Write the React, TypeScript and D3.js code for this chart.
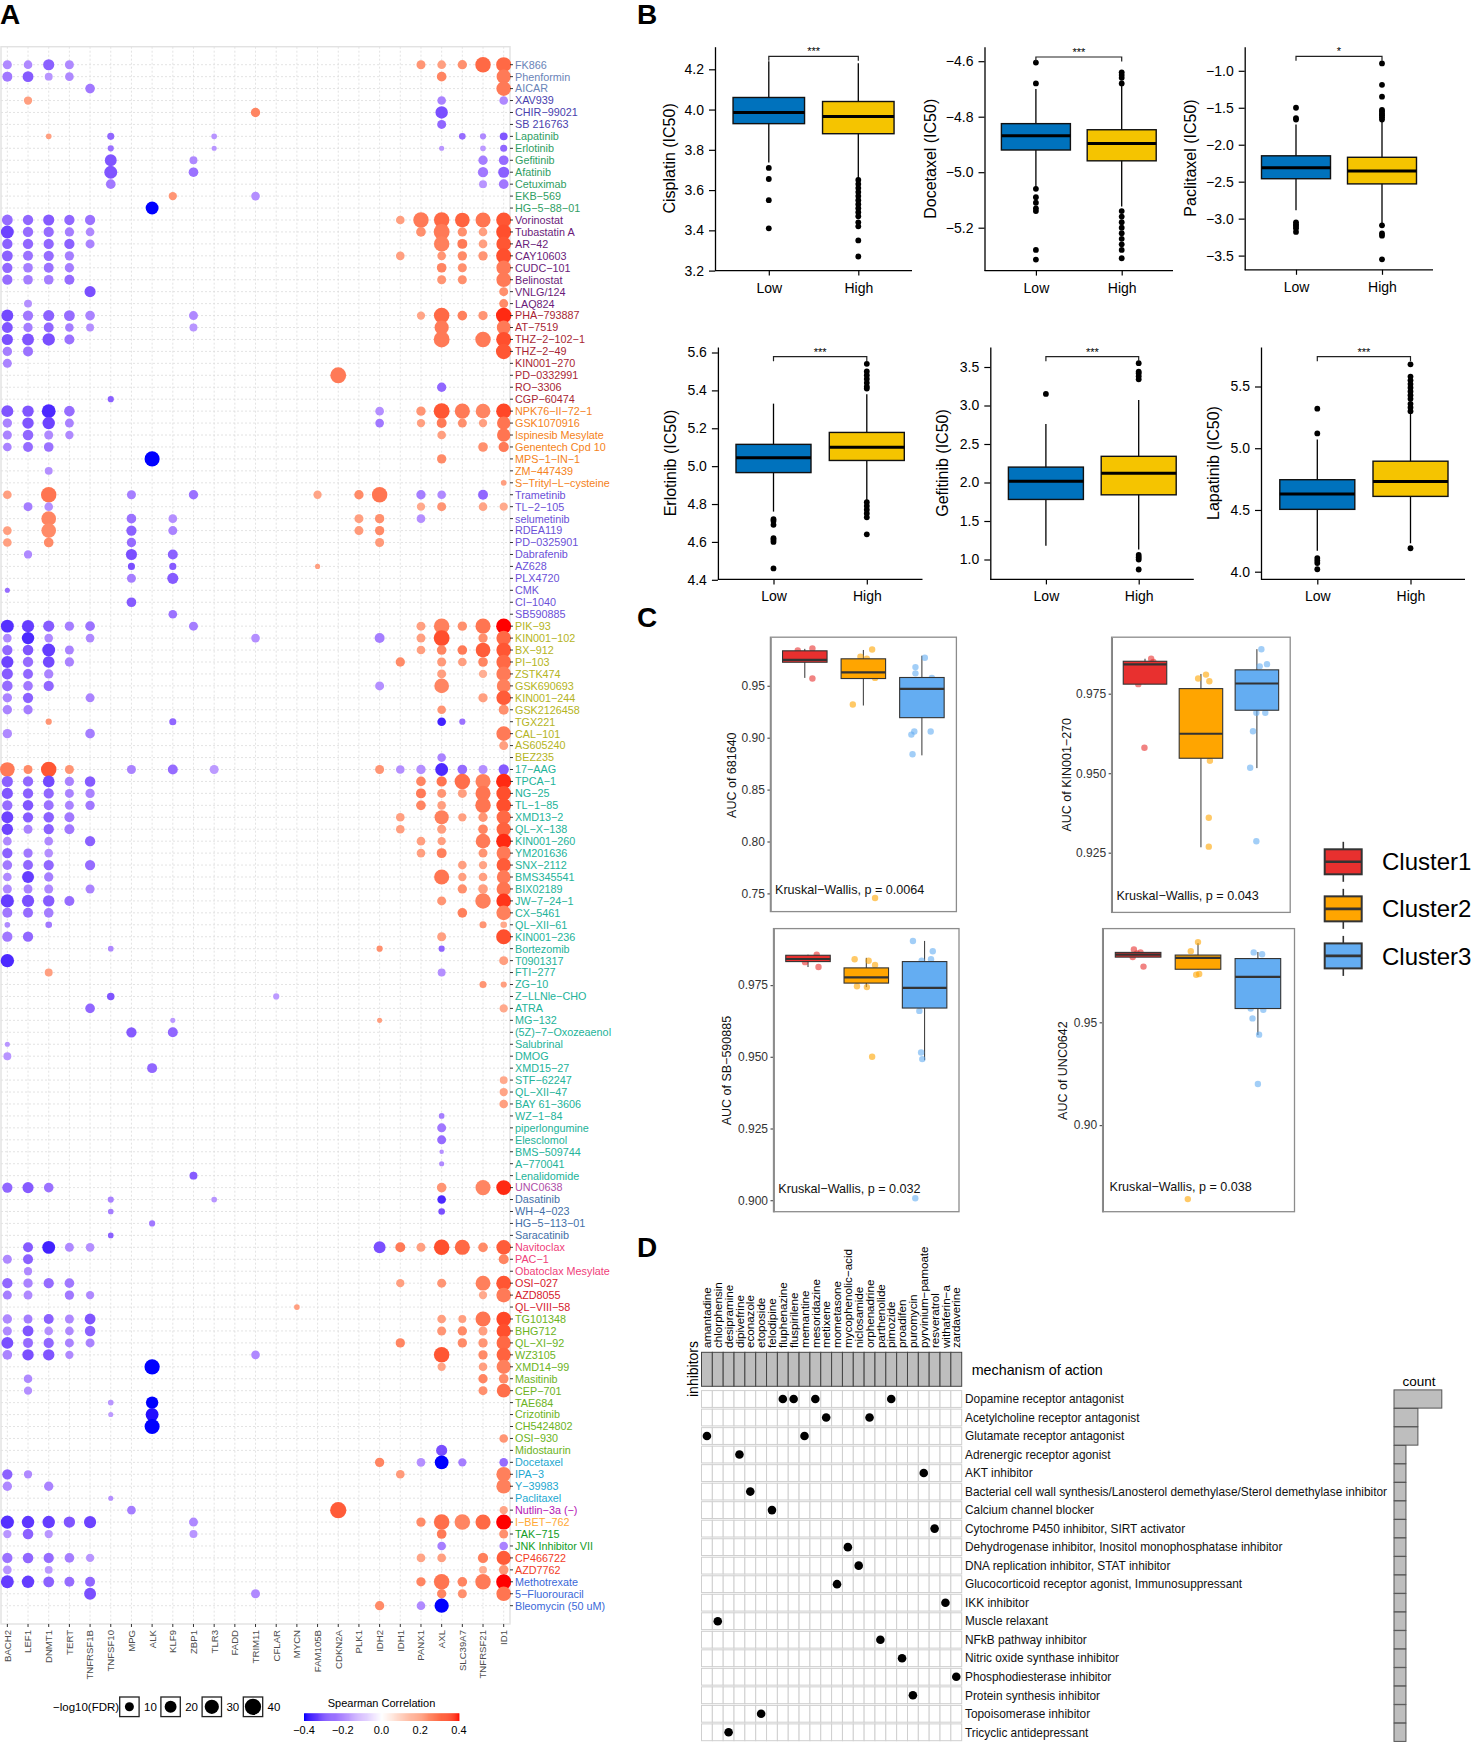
import * as d3 from "d3";
import { useEffect, useRef } from "react";

const FONT = '"Liberation Sans", Arial, Helvetica, sans-serif';

// Panel A
const genes = ["BACH2", "LEF1", "DNMT1", "TERT", "TNFRSF1B", "TNFSF10", "MPG", "ALK", "KLF9", "ZBP1", "TLR3", "FADD", "TRIM11", "CFLAR", "MYCN", "FAM105B", "CDKN2A", "PLK1", "IDH2", "IDH1", "PANX1", "AXL", "SLC39A7", "TNFRSF21", "ID1"];
const drugs = [
  "FK866", "Phenformin", "AICAR", "XAV939", "CHIR-99021", "SB 216763", "Lapatinib", "Erlotinib", "Gefitinib", "Afatinib", "Cetuximab", "EKB-569", "HG-5-88-01",
  "Vorinostat", "Tubastatin A", "AR-42", "CAY10603", "CUDC-101", "Belinostat", "VNLG/124", "LAQ824",
  "PHA-793887", "AT-7519", "THZ-2-102-1", "THZ-2-49", "KIN001-270", "PD-0332991", "RO-3306", "CGP-60474",
  "NPK76-II-72-1", "GSK1070916", "Ispinesib Mesylate", "Genentech Cpd 10", "MPS-1-IN-1", "ZM-447439", "S-Trityl-L-cysteine",
  "Trametinib", "TL-2-105", "selumetinib", "RDEA119", "PD-0325901", "Dabrafenib", "AZ628", "PLX4720", "CMK", "CI-1040", "SB590885",
  "PIK-93", "KIN001-102", "BX-912", "PI-103", "ZSTK474", "GSK690693", "KIN001-244", "GSK2126458", "TGX221", "CAL-101", "AS605240", "BEZ235",
  "17-AAG", "TPCA-1", "NG-25", "TL-1-85", "XMD13-2", "QL-X-138", "KIN001-260", "YM201636", "SNX-2112", "BMS345541", "BIX02189", "JW-7-24-1", "CX-5461", "QL-XII-61", "KIN001-236", "Bortezomib", "T0901317", "FTI-277", "ZG-10", "Z-LLNle-CHO", "ATRA", "MG-132", "(5Z)-7-Oxozeaenol", "Salubrinal", "DMOG", "XMD15-27", "STF-62247", "QL-XII-47", "BAY 61-3606", "WZ-1-84", "piperlongumine", "Elesclomol", "BMS-509744", "A-770041", "Lenalidomide",
  "UNC0638", "Dasatinib", "WH-4-023", "HG-5-113-01", "Saracatinib", "Navitoclax", "PAC-1", "Obatoclax Mesylate", "OSI-027", "AZD8055", "QL-VIII-58",
  "TG101348", "BHG712", "QL-XI-92", "WZ3105", "XMD14-99", "Masitinib", "CEP-701", "TAE684", "Crizotinib", "CH5424802", "OSI-930", "Midostaurin",
  "Docetaxel", "IPA-3", "Y-39983", "Paclitaxel", "Nutlin-3a (-)", "I-BET-762", "TAK-715", "JNK Inhibitor VII", "CP466722", "AZD7762", "Methotrexate", "5-Fluorouracil", "Bleomycin (50 uM)",
];
const drugGroupSizes = [3, 3, 7, 8, 8, 7, 11, 12, 35, 1, 4, 3, 3, 12, 4, 1, 1, 2, 2, 3];
const drugGroupColors = ["#6a84b8", "#4a3fae", "#2f9e63", "#6a1b7a", "#a81f33", "#f58220", "#6b50d8", "#b4b422", "#22b399", "#b04fa8", "#3f6fa8", "#f0407a", "#d6202c", "#6cb31c", "#1ca8d0", "#b515b5", "#ffa833", "#119c25", "#f23c1f", "#3a68d8"];

// per drug: [gene index, spearman correlation, -log10(FDR)]
const drugHits: [number, number, number][][] = [
  [[0, -.2, 10], [1, -.2, 9], [2, -.27, 17], [3, -.2, 10], [20, .22, 10], [21, .2, 9], [22, .23, 11], [23, .3, 36], [24, .3, 34]],
  [[0, -.23, 13], [1, -.28, 16], [2, -.18, 7], [3, -.2, 9], [21, .25, 12], [24, .27, 30]],
  [[4, -.23, 12], [24, .27, 32]],
  [[1, .2, 8], [21, -.21, 9], [24, -.2, 9]],
  [[12, .25, 11], [21, -.3, 22]],
  [[21, -.26, 10]],
  [[2, .2, 2], [5, -.26, 5], [10, -.18, 2], [22, -.25, 4], [23, -.2, 3], [24, -.29, 7]],
  [[5, -.24, 3], [10, -.18, 1], [21, -.18, 1], [23, -.17, 2], [24, -.26, 5]],
  [[5, -.29, 20], [9, -.2, 7], [23, -.22, 11], [24, -.25, 12]],
  [[5, -.29, 24], [9, -.24, 12], [23, -.23, 14], [24, -.27, 17]],
  [[5, -.23, 12], [23, -.18, 7], [24, -.23, 12]],
  [[8, .22, 8], [12, -.19, 9]],
  [[7, -.4, 24]],
  [[0, -.25, 16], [1, -.26, 14], [2, -.28, 17], [3, -.26, 14], [4, -.24, 14], [19, .2, 9], [20, .27, 36], [21, .3, 36], [22, .31, 32], [23, .28, 34], [24, .33, 34]],
  [[0, -.32, 24], [1, -.25, 14], [2, -.25, 14], [3, -.22, 11], [4, -.2, 9], [20, .23, 12], [21, .27, 38], [22, .23, 11], [23, .2, 9], [24, .34, 34]],
  [[0, -.27, 14], [1, -.26, 14], [2, -.26, 14], [3, -.27, 14], [4, -.21, 10], [21, .26, 36], [22, .27, 13], [23, .2, 9], [24, .33, 32]],
  [[0, -.27, 16], [1, -.24, 13], [2, -.25, 14], [3, -.22, 11], [19, .2, 9], [21, .22, 9], [22, .24, 11], [23, .22, 11], [24, .34, 34]],
  [[0, -.26, 14], [1, -.22, 12], [2, -.24, 13], [3, -.22, 11], [21, .25, 12], [22, .23, 10], [24, .27, 32]],
  [[0, -.25, 14], [1, -.22, 12], [2, -.22, 12], [3, -.25, 13], [21, .22, 10], [22, .23, 10], [24, .27, 32]],
  [[4, -.3, 17], [24, .23, 10]],
  [[1, -.19, 7], [24, .24, 10]],
  [[0, -.31, 20], [1, -.23, 14], [2, -.27, 17], [3, -.25, 16], [4, -.21, 12], [9, -.2, 10], [20, .19, 8], [21, .3, 36], [22, .26, 12], [23, .22, 11], [24, .38, 36]],
  [[0, -.29, 16], [1, -.22, 11], [2, -.26, 13], [3, -.22, 9], [4, -.19, 7], [9, -.18, 7], [21, .27, 30], [24, .27, 28]],
  [[0, -.3, 17], [1, -.29, 20], [2, -.3, 22], [3, -.24, 13], [21, .27, 38], [23, .27, 36], [24, .34, 34]],
  [[0, -.22, 11], [1, -.24, 13], [24, .33, 36]],
  [[0, -.21, 10]],
  [[16, .27, 38]],
  [[21, -.26, 11]],
  [[5, -.27, 3]],
  [[0, -.29, 20], [1, -.29, 18], [2, -.36, 28], [3, -.25, 15], [18, -.19, 9], [20, .22, 11], [21, .33, 38], [22, .27, 34], [23, .25, 32], [24, .35, 34]],
  [[0, -.21, 11], [1, -.29, 18], [2, -.32, 22], [3, -.21, 10], [18, -.23, 9], [20, .2, 8], [21, .27, 13], [22, .23, 10], [23, .2, 8], [24, .28, 26]],
  [[0, -.21, 10], [1, -.26, 15], [2, -.2, 10], [3, -.2, 8], [21, .2, 9], [24, .28, 26]],
  [[0, -.21, 9], [1, -.25, 13], [2, -.24, 12], [23, .23, 12], [24, .27, 14]],
  [[7, -.4, 34], [21, .24, 11]],
  [[2, -.19, 7]],
  [[24, .2, 2]],
  [[0, .2, 9], [2, .28, 36], [6, -.22, 10], [9, -.24, 11], [15, .19, 8], [17, .24, 11], [18, .28, 36], [20, -.22, 11], [21, -.2, 9], [23, -.26, 13]],
  [[1, -.22, 10], [2, -.19, 9], [20, .18, 8], [21, .22, 10], [23, .19, 9], [24, .18, 8]],
  [[2, .25, 32], [6, -.24, 12], [8, -.19, 9], [17, .2, 10], [18, .23, 11], [20, -.19, 9]],
  [[0, .2, 9], [2, .24, 32], [6, -.27, 14], [8, -.21, 10], [17, .21, 10], [18, .24, 11]],
  [[0, .2, 9], [2, .24, 12], [6, -.25, 11], [18, .21, 10]],
  [[1, -.2, 8], [6, -.3, 17], [8, -.27, 13]],
  [[6, -.3, 5], [8, -.28, 5], [15, .2, 1]],
  [[6, -.22, 10], [8, -.28, 17]],
  [[0, -.25, 1]],
  [[6, -.28, 12]],
  [[8, -.24, 9]],
  [[0, -.35, 24], [1, -.33, 21], [2, -.28, 17], [3, -.22, 11], [4, -.24, 12], [9, -.22, 10], [20, .2, 10], [21, .26, 36], [22, .23, 11], [23, .28, 34], [24, .4, 34]],
  [[0, -.2, 9], [1, -.36, 22], [2, -.2, 9], [4, -.2, 9], [12, -.19, 9], [18, -.22, 13], [20, .2, 10], [21, .34, 38], [23, .23, 11], [24, .3, 32]],
  [[0, -.26, 14], [1, -.29, 15], [2, -.33, 24], [3, -.21, 10], [20, .2, 9], [21, .25, 12], [22, .27, 12], [23, .32, 32], [24, .33, 32]],
  [[0, -.32, 21], [1, -.25, 14], [2, -.31, 19], [3, -.21, 11], [19, .24, 11], [21, .21, 10], [22, .2, 9], [23, .25, 12], [24, .3, 32]],
  [[0, -.28, 17], [1, -.26, 13], [2, -.21, 11], [21, .2, 10], [23, .17, 8], [24, .27, 32]],
  [[0, -.25, 15], [1, -.23, 12], [2, -.26, 14], [18, -.19, 10], [21, .25, 32], [24, .26, 28]],
  [[0, -.21, 11], [1, -.27, 14], [4, -.21, 10], [23, .2, 11], [24, .32, 32]],
  [[0, -.21, 11], [1, -.22, 11], [21, .22, 9], [24, .23, 13]],
  [[2, .22, 3], [8, -.26, 5], [21, -.37, 9], [22, -.24, 3]],
  [[0, -.2, 11], [4, -.22, 12], [24, .27, 32]],
  [[24, .2, 10]],
  [[21, -.21, 9]],
  [[0, .27, 32], [1, .24, 10], [2, .33, 36], [3, .22, 10], [6, -.21, 10], [8, -.25, 13], [10, -.17, 10], [18, .22, 10], [19, -.19, 9], [20, -.19, 11], [21, -.36, 24], [22, -.25, 12], [23, -.19, 10], [24, -.28, 14]],
  [[0, -.27, 17], [1, -.26, 14], [2, -.31, 19], [3, -.21, 11], [4, -.28, 15], [20, .25, 12], [21, .28, 14], [22, .29, 36], [23, .26, 34], [24, .38, 35]],
  [[0, -.29, 17], [1, -.27, 14], [2, -.26, 14], [3, -.21, 10], [4, -.21, 11], [20, .27, 13], [21, .22, 10], [22, .2, 10], [23, .28, 34], [24, .34, 32]],
  [[0, -.25, 14], [1, -.29, 15], [2, -.24, 13], [3, -.21, 10], [4, -.23, 11], [20, .25, 12], [21, .2, 9], [23, .28, 36], [24, .34, 32]],
  [[0, -.32, 20], [1, -.28, 14], [2, -.27, 15], [3, -.23, 13], [19, .2, 9], [21, .26, 30], [22, .2, 8], [23, .22, 11], [24, .3, 30]],
  [[0, -.32, 18], [1, -.21, 10], [2, -.27, 14], [3, -.23, 13], [19, .2, 9], [21, .2, 10], [23, .25, 12], [24, .31, 30]],
  [[0, -.2, 9], [2, -.2, 9], [4, -.27, 14], [20, .2, 9], [21, .2, 8], [23, .27, 32], [24, .38, 34]],
  [[0, -.27, 14], [1, -.23, 11], [2, -.19, 9], [20, .2, 9], [21, .26, 13], [23, .22, 10], [24, .27, 30]],
  [[0, -.23, 12], [1, -.26, 13], [2, -.26, 14], [4, -.25, 14], [22, .2, 9], [23, .19, 8], [24, .32, 30]],
  [[0, -.2, 9], [1, -.33, 20], [2, -.22, 11], [21, .28, 34], [22, .2, 8], [23, .2, 9], [24, .27, 28]],
  [[0, -.2, 10], [1, -.21, 10], [2, -.2, 10], [4, -.21, 10], [22, .23, 11], [23, .2, 12], [24, .28, 30]],
  [[0, -.33, 25], [1, -.3, 21], [2, -.28, 18], [3, -.25, 13], [21, .22, 10], [23, .26, 36], [24, .37, 32]],
  [[0, -.23, 13], [1, -.25, 13], [2, -.22, 12], [22, .26, 12], [24, .26, 32]],
  [[0, -.2, 2], [2, -.23, 4], [23, .22, 5], [24, .18, 4]],
  [[0, -.23, 14], [1, -.26, 14], [21, .2, 10], [24, .34, 34]],
  [[5, -.2, 2], [18, .23, 3], [21, -.26, 3]],
  [[0, -.36, 26], [24, .2, 10]],
  [[2, .2, 7], [21, -.19, 7]],
  [[23, .22, 5], [24, .2, 3]],
  [[5, -.29, 6], [13, -.17, 3]],
  [[4, -.26, 12], [24, .18, 8]],
  [[8, -.17, 1], [18, .2, 1]],
  [[6, -.28, 14], [8, -.26, 13]],
  [[0, -.18, 1]],
  [[0, -.18, 7]],
  [[7, -.26, 13]],
  [[24, .18, 7]],
  [[24, .19, 8]],
  [[24, .2, 9]],
  [[21, -.22, 2]],
  [[21, -.23, 10]],
  [[21, -.25, 10]],
  [[21, -.19, 0]],
  [[21, -.2, 1]],
  [[9, -.28, 7]],
  [[0, -.26, 14], [1, -.28, 17], [2, -.24, 12], [21, .22, 12], [23, .25, 34], [24, .38, 33]],
  [[5, -.21, 3], [10, -.18, 2], [21, -.36, 9]],
  [[5, -.22, 2], [21, -.3, 4]],
  [[7, -.23, 3]],
  [[5, -.27, 2]],
  [[1, -.28, 13], [2, -.37, 24], [3, -.2, 10], [4, -.19, 9], [18, -.3, 20], [19, .27, 13], [20, .2, 10], [21, .34, 36], [22, .3, 34], [23, .24, 12], [24, .32, 32]],
  [[0, -.2, 10], [1, -.27, 13], [24, .25, 13]],
  [[1, -.2, 8]],
  [[0, -.26, 14], [1, -.21, 11], [2, -.25, 14], [3, -.23, 12], [19, .2, 8], [21, .22, 10], [23, .26, 33], [24, .33, 33]],
  [[0, -.22, 10], [1, -.2, 10], [3, -.23, 11], [4, -.2, 8], [23, .18, 8], [24, .27, 32]],
  [[14, .2, 2]],
  [[0, -.2, 11], [1, -.22, 10], [2, -.27, 13], [3, -.2, 10], [4, -.29, 16], [21, .2, 9], [22, .2, 7], [23, .28, 34], [24, .35, 32]],
  [[0, -.2, 10], [1, -.29, 16], [2, -.19, 9], [3, -.2, 9], [4, -.27, 15], [21, .22, 10], [22, .24, 11], [23, .2, 10], [24, .34, 30]],
  [[0, -.3, 20], [1, -.25, 13], [2, -.26, 14], [3, -.21, 10], [4, -.21, 10], [19, .25, 11], [22, .24, 11], [23, .22, 11], [24, .3, 30]],
  [[0, -.21, 12], [1, -.3, 18], [2, -.29, 18], [3, -.2, 8], [12, -.2, 9], [21, .33, 36], [23, .24, 11], [24, .31, 30]],
  [[7, -.4, 35], [21, .19, 8], [23, .2, 9], [24, .26, 30]],
  [[1, -.2, 9], [23, .25, 11], [24, .24, 12]],
  [[1, -.19, 8], [23, .23, 10], [24, .29, 28]],
  [[5, -.18, 2], [7, -.4, 22]],
  [[5, -.17, 1], [7, -.39, 24]],
  [[7, -.4, 34]],
  [[24, .22, 9]],
  [[21, -.3, 17]],
  [[18, .25, 11], [20, -.19, 9], [21, -.4, 28], [22, -.22, 8], [24, -.25, 9]],
  [[0, -.27, 14], [1, -.2, 8], [19, .21, 9], [24, .26, 32]],
  [[0, -.2, 11], [2, -.21, 11], [24, .26, 32]],
  [[5, -.19, 1]],
  [[6, -.22, 9], [16, .32, 40], [24, .19, 8]],
  [[0, -.35, 25], [1, -.34, 22], [2, -.33, 22], [3, -.29, 18], [4, -.32, 21], [9, -.2, 10], [20, .24, 11], [21, .29, 36], [22, .25, 36], [23, .3, 34], [24, .4, 34]],
  [[0, -.18, 8], [1, -.27, 15], [2, -.18, 8], [9, -.18, 7], [21, .27, 12], [24, .23, 10]],
  [[21, -.22, 9], [24, -.21, 9]],
  [[0, -.24, 14], [1, -.26, 15], [2, -.25, 14], [3, -.22, 12], [4, -.18, 8], [20, .19, 9], [21, .2, 9], [23, .26, 14], [24, .32, 30]],
  [[0, -.18, 9], [2, -.17, 7], [23, .17, 7], [24, .22, 12]],
  [[0, -.33, 24], [1, -.33, 22], [2, -.27, 16], [3, -.25, 13], [4, -.26, 13], [20, .25, 11], [21, .28, 36], [22, .25, 12], [23, .27, 36], [24, .4, 34]],
  [[4, -.3, 20], [12, -.2, 10], [21, .25, 11], [22, .23, 10], [24, .28, 32]],
  [[18, .24, 11], [20, -.2, 9], [21, -.4, 30]],
];
const fdrLegend = [10, 20, 30, 40];
const corrTicks = [-0.4, -0.2, 0, 0.2, 0.4];

// Panel B: whisker low, q1, median, q3, whisker high
const groupsB = ["Low", "High"];
const cisplatinBoxes = [[3.737, 3.93, 3.985, 4.06, 4.24], [3.66, 3.88, 3.965, 4.04, 4.23]];
const cisplatinOut = [[3.71, 3.655, 3.55, 3.41], [3.65, 3.63, 3.61, 3.59, 3.57, 3.55, 3.53, 3.51, 3.49, 3.47, 3.44, 3.42, 3.35, 3.27]];
const docetaxelBoxes = [[-5.055, -4.92, -4.869, -4.825, -4.7], [-5.124, -4.959, -4.897, -4.847, -4.685]];
const docetaxelOut = [[-4.605, -4.68, -5.06, -5.09, -5.11, -5.13, -5.14, -5.28, -5.315], [-4.64, -4.65, -4.66, -4.68, -5.14, -5.16, -5.18, -5.2, -5.22, -5.24, -5.26, -5.28, -5.31]];
const paclitaxelBoxes = [[-2.885, -2.46, -2.31, -2.15, -1.725], [-3.07, -2.53, -2.355, -2.17, -1.67]];
const paclitaxelOut = [[-1.5, -1.64, -1.66, -3.05, -3.08, -3.1, -3.13, -3.18], [-0.9, -1.19, -1.35, -1.53, -1.55, -1.58, -1.6, -1.63, -1.66, -3.09, -3.2, -3.23, -3.55]];
const erlotinibBoxes = [[4.76, 4.966, 5.044, 5.115, 5.33], [4.815, 5.03, 5.1, 5.178, 5.38]];
const erlotinibOut = [[4.72, 4.71, 4.69, 4.62, 4.61, 4.6, 4.46], [5.54, 5.5, 5.48, 5.46, 5.44, 5.42, 5.41, 4.81, 4.79, 4.77, 4.75, 4.73, 4.64]];
const gefitinibBoxes = [[1.18, 1.78, 2.015, 2.2, 2.76], [1.13, 1.84, 2.12, 2.34, 3.07]];
const gefitinibOut = [[3.15], [3.55, 3.44, 3.42, 3.38, 3.34, 1.06, 1.03, 1.0, 0.87]];
const lapatinibBoxes = [[4.17, 4.505, 4.63, 4.745, 5.07], [4.23, 4.61, 4.73, 4.895, 5.28]];
const lapatinibOut = [[5.32, 5.12, 4.11, 4.09, 4.07, 4.02], [5.68, 5.58, 5.55, 5.52, 5.49, 5.46, 5.43, 5.4, 5.36, 5.33, 5.3, 4.19]];

// Panel C: same box order per cluster, points are [jitter in band units, AUC]
const clusters = ["Cluster1", "Cluster2", "Cluster3"];
const aucBoxes681640 = [[0.9576, 0.9727, 0.975, 0.9837, 0.9856], [0.931, 0.957, 0.9629, 0.976, 0.9845], [0.883, 0.9193, 0.947, 0.958, 0.979]];
const aucPoints681640 = [
  [[-.12, .984], [.13, .986], [.06, .976], [0, .98], [.13, .957]],
  [[.15, .985], [-.05, .978], [.06, .976], [.2, .9576], [-.18, .932], [.2, .7455], [-.19, .962]],
  [[.05, .977], [-.11, .968], [-.11, .962], [.17, .9576], [-.04, .948], [-.13, .906], [.15, .906], [-.18, .903], [-.16, .884]],
];
const aucBoxesKin = [[0.978, 0.978, 0.9842, 0.9852, 0.986], [0.9267, 0.9547, 0.9624, 0.9766, 0.9812], [0.9516, 0.9698, 0.9782, 0.9825, 0.989]];
const aucPointsKin = [
  [[.11, .986], [-.12, .978], [-.01, .958], [.02, .984], [.15, .985]],
  [[.09, .981], [-.05, .9798], [.15, .9789], [.16, .9539], [.14, .936], [.14, .9269]],
  [[.08, .989], [.18, .9843], [.05, .9836], [.15, .969], [-.01, .969], [-.07, .9632], [-.12, .9517], [-.01, .9286]],
];
const aucBoxesSb = [[0.9813, 0.9832, 0.9841, 0.9854, 0.9856], [0.9743, 0.9757, 0.9777, 0.981, 0.9845], [0.9488, 0.967, 0.974, 0.9832, 0.9904]];
const aucPointsSb = [
  [[.15, .9856], [.18, .9813], [-.05, .983]],
  [[-.2, .984], [.04, .9835], [.15, .982], [-.16, .9746], [.01, .9743], [.1, .95], [-.02, .978]],
  [[-.2, .9904], [.14, .9868], [-.05, .9835], [.11, .984], [-.09, .966], [-.06, .9515], [-.04, .9492], [-.16, .9007]],
];
const aucBoxesUnc = [[0.9817, 0.9817, 0.9829, 0.984, 0.984], [0.9758, 0.9758, 0.9813, 0.9827, 0.9885], [0.9438, 0.9567, 0.9721, 0.981, 0.9842]];
const aucPointsUnc = [
  [[-.07, .9854], [-.02, .9835], [-.09, .9817], [.09, .9771], [.04, .984]],
  [[0, .989], [-.12, .9846], [-.04, .9813], [.02, .9735], [-.03, .9731], [-.17, .864]],
  [[-.07, .984], [.07, .9831], [-.12, .9567], [-.09, .9519], [.09, .9561], [.02, .944], [0, .92]],
];

// Panel D
const inhibitors = ["amantadine", "chlorphensin", "desipramine", "dipivefrine", "econazole", "etoposide", "felodipine", "fluphenazine", "fluspirilene", "memantine", "mesoridazine", "metixene", "mometasone", "mycophenolic-acid", "niclosamide", "orphenadrine", "parthenolide", "pimozide", "proadifen", "puromycin", "pyrvinium-pamoate", "resveratrol", "withaferin-a", "zardaverine"];
const mechanisms = ["Dopamine receptor antagonist", "Acetylcholine receptor antagonist", "Glutamate receptor antagonist", "Adrenergic receptor agonist", "AKT inhibitor", "Bacterial cell wall synthesis/Lanosterol demethylase/Sterol demethylase inhibitor", "Calcium channel blocker", "Cytochrome P450 inhibitor, SIRT activator", "Dehydrogenase inhibitor, Inositol monophosphatase inhibitor", "DNA replication inhibitor, STAT inhibitor", "Glucocorticoid receptor agonist, Immunosuppressant", "IKK inhibitor", "Muscle relaxant", "NFkB pathway inhibitor", "Nitric oxide synthase inhibitor", "Phosphodiesterase inhibitor", "Protein synthesis inhibitor", "Topoisomerase inhibitor", "Tricyclic antidepressant"];
const mechanismDrugs = [["fluphenazine", "fluspirilene", "mesoridazine", "pimozide"], ["metixene", "orphenadrine"], ["amantadine", "memantine"], ["dipivefrine"], ["pyrvinium-pamoate"], ["econazole"], ["felodipine"], ["resveratrol"], ["mycophenolic-acid"], ["niclosamide"], ["mometasone"], ["withaferin-a"], ["chlorphensin"], ["parthenolide"], ["proadifen"], ["zardaverine"], ["puromycin"], ["etoposide"], ["desipramine"]];

const minus = (s: string) => s.replace(/-/g, "\u2212");

function styleAxis(g: any, color: string, size: number, textColor = color) {
  g.selectAll("path").attr("stroke", color).attr("stroke-width", 1.3);
  g.selectAll("line").attr("stroke", color).attr("stroke-width", 1.2);
  g.selectAll("text").attr("fill", textColor).attr("font-size", size).attr("font-family", FONT);
}

function drawPanelA(svg: any) {
  const left = 1, right = 510, top = 46.7, bottom = 1624;
  const x = d3.scalePoint<string>().domain(genes).range([7.35, 503.7]);
  const y = d3.scalePoint<string>().domain(drugs.map((d, i) => d + "|" + i)).range([64.7, 1605.7]);
  const rowY = (i: number) => y(drugs[i] + "|" + i) as number;
  const color = d3.scaleLinear<string>().domain([-0.4, 0, 0.4]).range(["#0000ff", "#ffffff", "#ff0000"]).interpolate(d3.interpolateLab);
  const area = d3.scaleLinear().domain([0, 40]).range([5, 66]);
  const radius = (f: number) => Math.sqrt(area(f));

  const g = svg.append("g");
  g.selectAll("line.gx").data(genes).join("line")
    .attr("x1", (d: string) => x(d)).attr("x2", (d: string) => x(d)).attr("y1", top).attr("y2", bottom)
    .attr("stroke", "#dcdcdc").attr("stroke-width", 0.8).attr("stroke-dasharray", "2,2");
  g.selectAll("line.gy").data(drugs).join("line")
    .attr("x1", left).attr("x2", right).attr("y1", (_: string, i: number) => rowY(i)).attr("y2", (_: string, i: number) => rowY(i))
    .attr("stroke", "#dcdcdc").attr("stroke-width", 0.8).attr("stroke-dasharray", "2,2");
  g.append("rect").attr("x", left).attr("y", top).attr("width", right - left).attr("height", bottom - top)
    .attr("fill", "none").attr("stroke", "#e2e2e2").attr("stroke-width", 1.4);

  const flat = drugHits.flatMap((hits, row) => hits.map(([gene, corr, fdr]) => ({ row, gene, corr, fdr })));
  g.selectAll("circle").data(flat).join("circle")
    .attr("cx", (d: any) => x(genes[d.gene])).attr("cy", (d: any) => rowY(d.row))
    .attr("r", (d: any) => radius(d.fdr)).attr("fill", (d: any) => color(d.corr));

  // right labels, coloured by drug class
  const classOf: number[] = drugGroupSizes.flatMap((n, i) => d3.range(n).map(() => i));
  g.selectAll("line.rt").data(drugs).join("line")
    .attr("x1", right).attr("x2", right + 3).attr("y1", (_: string, i: number) => rowY(i)).attr("y2", (_: string, i: number) => rowY(i))
    .attr("stroke", "#333").attr("stroke-width", 1);
  g.selectAll("text.drug").data(drugs).join("text").attr("class", "drug")
    .attr("x", right + 5).attr("y", (_: string, i: number) => rowY(i)).attr("dy", "0.36em")
    .attr("font-size", 10.8).attr("font-family", FONT)
    .attr("fill", (_: string, i: number) => drugGroupColors[classOf[i]]).text((d: string) => minus(d));

  // bottom gene labels
  genes.forEach((gene) => {
    g.append("line").attr("x1", x(gene)).attr("x2", x(gene)).attr("y1", bottom).attr("y2", bottom + 3).attr("stroke", "#333");
    g.append("text").attr("transform", `translate(${(x(gene) as number) + 3.4},${bottom + 6}) rotate(-90)`)
      .attr("text-anchor", "end").attr("font-size", 9.6).attr("font-family", FONT).attr("fill", "#4d4d4d").text(gene);
  });

  // size legend
  g.append("text").attr("x", 53).attr("y", 1707).attr("dy", "0.36em").attr("font-size", 11.5).attr("font-family", FONT).text("\u2212log10(FDR)");
  const keyX = d3.scalePoint<number>().domain(fdrLegend).range([129.4, 253]);
  fdrLegend.forEach((f) => {
    const cx = keyX(f) as number;
    g.append("rect").attr("x", cx - 9.7).attr("y", 1697).attr("width", 19.4).attr("height", 19.6).attr("fill", "#fff").attr("stroke", "#222").attr("stroke-width", 1.3);
    g.append("circle").attr("cx", cx).attr("cy", 1706.8).attr("r", radius(f)).attr("fill", "#000");
    g.append("text").attr("x", cx + 14.6).attr("y", 1707).attr("dy", "0.36em").attr("font-size", 11.5).attr("font-family", FONT).text(f);
  });

  // colour legend
  const cx = d3.scaleLinear().domain([-0.4, 0.4]).range([304, 459]);
  g.append("text").attr("x", cx(0)).attr("y", 1703).attr("dy", "0.36em").attr("text-anchor", "middle").attr("font-size", 11).attr("font-family", FONT).text("Spearman Correlation");
  g.selectAll("rect.bar").data(d3.range(-0.4, 0.4, 0.005)).join("rect").attr("class", "bar")
    .attr("x", (d: number) => cx(d)).attr("y", 1713.3).attr("width", 1.4).attr("height", 7.7).attr("fill", (d: number) => color(d));
  corrTicks.forEach((t) => {
    g.append("text").attr("x", cx(t)).attr("y", 1730).attr("dy", "0.36em").attr("text-anchor", "middle")
      .attr("font-size", 11).attr("font-family", FONT).text(d3.format(".1f")(t));
  });
}

interface IcPlot {
  title: string; boxes: number[][]; outliers: number[][]; stars: string;
  axisX: number; endX: number; top: number; bottom: number; lowX: number; highX: number; boxW: number;
  tickA: [number, number]; tickB: [number, number]; ticks: number[]; titleX: number; titleY: number; bracketY: number;
}

function drawIcPlot(svg: any, p: IcPlot) {
  const fills = ["#0072BD", "#F5C400"];
  const x = d3.scalePoint<string>().domain(groupsB).range([p.lowX, p.highX]);
  const yBase = d3.scaleLinear().domain([p.tickA[0], p.tickB[0]]).range([p.tickA[1], p.tickB[1]]);
  const y = d3.scaleLinear().domain([yBase.invert(p.bottom), yBase.invert(p.top)]).range([p.bottom, p.top]);
  const g = svg.append("g");

  g.append("g").attr("transform", `translate(${p.axisX},0)`)
    .call(d3.axisLeft(y).tickValues(p.ticks).tickSize(6).tickPadding(5).tickSizeOuter(0).tickFormat(d3.format(".1f") as any))
    .call((a: any) => styleAxis(a, "#000", 14));
  const xAxisScale = d3.scalePoint<string>().domain(groupsB).range([p.lowX - p.axisX, p.highX - p.axisX]);
  const xAxis = g.append("g").attr("transform", `translate(${p.axisX},${p.bottom})`)
    .call(d3.axisBottom(xAxisScale).tickSize(5).tickPadding(7).tickSizeOuter(0))
    .call((a: any) => styleAxis(a, "#000", 14));
  xAxis.select("path").attr("d", `M0,0H${p.endX - p.axisX}`);

  g.append("text").attr("transform", `translate(${p.titleX},${p.titleY}) rotate(-90)`).attr("dy", "0.36em")
    .attr("text-anchor", "middle").attr("font-size", 16).attr("font-family", FONT).text(p.title);

  groupsB.forEach((grp, i) => {
    const [lo, q1, med, q3, hi] = p.boxes[i];
    const cx = x(grp) as number;
    g.append("line").attr("x1", cx).attr("x2", cx).attr("y1", y(lo)).attr("y2", y(hi)).attr("stroke", "#000").attr("stroke-width", 1.3);
    g.append("rect").attr("x", cx - p.boxW / 2).attr("y", y(q3)).attr("width", p.boxW).attr("height", y(q1) - y(q3))
      .attr("fill", fills[i]).attr("stroke", "#111").attr("stroke-width", 1.4);
    g.append("line").attr("x1", cx - p.boxW / 2).attr("x2", cx + p.boxW / 2).attr("y1", y(med)).attr("y2", y(med)).attr("stroke", "#000").attr("stroke-width", 3);
    g.selectAll(null).data(p.outliers[i]).join("circle").attr("cx", cx).attr("cy", (v: number) => y(v)).attr("r", 2.9).attr("fill", "#000");
  });

  const bx = (grp: string) => x(grp) as number;
  g.append("path").attr("d", `M${bx("Low")},${p.bracketY + 4.5}V${p.bracketY}H${bx("High")}V${p.bracketY + 4.5}`)
    .attr("fill", "none").attr("stroke", "#222").attr("stroke-width", 1.2);
  g.append("text").attr("x", (bx("Low") + bx("High")) / 2).attr("y", p.bracketY - 1).attr("text-anchor", "middle")
    .attr("font-size", 11).attr("font-family", FONT).text(p.stars);
}

interface AucPlot {
  title: string; boxes: number[][]; points: number[][][]; label: string;
  frame: [number, number, number, number]; centers: [number, number]; boxW: number;
  tickA: [number, number]; tickB: [number, number]; ticks: number[]; fmt: string;
  titleX: number; titleY: number; labelX: number; labelY: number;
}

const clusterFill = ["#E8302F", "#FFA500", "#64ADF2"];

function drawAucPlot(svg: any, p: AucPlot) {
  const [x0, y0, x1, y1] = p.frame;
  const x = d3.scalePoint<string>().domain(clusters).range(p.centers);
  const step = x.step();
  const yBase = d3.scaleLinear().domain([p.tickA[0], p.tickB[0]]).range([p.tickA[1], p.tickB[1]]);
  const y = d3.scaleLinear().domain([yBase.invert(y1), yBase.invert(y0)]).range([y1, y0]);
  const g = svg.append("g");

  g.append("g").attr("transform", `translate(${x0},0)`)
    .call(d3.axisLeft(y).tickValues(p.ticks).tickSize(3).tickPadding(2.5).tickSizeOuter(0).tickFormat(d3.format(p.fmt) as any))
    .call((a: any) => styleAxis(a, "#555", 12, "#333"));
  g.append("rect").attr("x", x0).attr("y", y0).attr("width", x1 - x0).attr("height", y1 - y0)
    .attr("fill", "none").attr("stroke", "#8c8c8c").attr("stroke-width", 1.3);

  clusters.forEach((c, i) => {
    const [lo, q1, med, q3, hi] = p.boxes[i];
    const cx = x(c) as number;
    g.append("line").attr("x1", cx).attr("x2", cx).attr("y1", y(lo)).attr("y2", y(hi)).attr("stroke", "#333").attr("stroke-width", 1);
    g.selectAll(null).data(p.points[i]).join("circle")
      .attr("cx", (d: number[]) => cx + d[0] * step).attr("cy", (d: number[]) => y(d[1]))
      .attr("r", 3.2).attr("fill", clusterFill[i]).attr("fill-opacity", 0.6);
    g.append("rect").attr("x", cx - p.boxW / 2).attr("y", y(q3)).attr("width", p.boxW).attr("height", y(q1) - y(q3))
      .attr("fill", clusterFill[i]).attr("stroke", "#333").attr("stroke-width", 1.1);
    g.append("line").attr("x1", cx - p.boxW / 2).attr("x2", cx + p.boxW / 2).attr("y1", y(med)).attr("y2", y(med)).attr("stroke", "#333").attr("stroke-width", 2.2);
  });

  g.append("text").attr("transform", `translate(${p.titleX},${p.titleY}) rotate(-90)`).attr("dy", "0.36em")
    .attr("text-anchor", "middle").attr("font-size", 12.5).attr("font-family", FONT).attr("fill", "#111").text(minus(p.title));
  g.append("text").attr("x", p.labelX).attr("y", p.labelY).attr("dy", "0.36em")
    .attr("font-size", 12.6).attr("font-family", FONT).attr("fill", "#111").text(p.label);
}

function drawClusterLegend(svg: any) {
  const y = d3.scalePoint<string>().domain(clusters).range([861.8, 955.9]);
  clusters.forEach((c, i) => {
    const cy = y(c) as number;
    const g = svg.append("g");
    g.append("line").attr("x1", 1343.3).attr("x2", 1343.3).attr("y1", cy - 20).attr("y2", cy + 20).attr("stroke", "#333").attr("stroke-width", 1.6);
    g.append("rect").attr("x", 1324.7).attr("y", cy - 12.5).attr("width", 37).attr("height", 25).attr("fill", clusterFill[i]).attr("stroke", "#333").attr("stroke-width", 2);
    g.append("line").attr("x1", 1324.7).attr("x2", 1361.7).attr("y1", cy).attr("y2", cy).attr("stroke", "#333").attr("stroke-width", 2.6);
    g.append("text").attr("x", 1382).attr("y", cy).attr("dy", "0.36em").attr("font-size", 24).attr("font-family", FONT).text(c);
  });
}

function drawPanelD(svg: any) {
  const x = d3.scaleBand<string>().domain(inhibitors).range([701.5, 961.7]);
  const y = d3.scalePoint<string>().domain(mechanisms).range([1399, 1732.3]);
  const count = d3.scaleLinear().domain([0, 4]).range([0, 47.8]);
  const g = svg.append("g");

  inhibitors.forEach((name) => {
    g.append("rect").attr("x", x(name)).attr("y", 1352.3).attr("width", x.bandwidth()).attr("height", 34)
      .attr("fill", "#bebebe").attr("stroke", "#444").attr("stroke-width", 1);
    g.append("text").attr("transform", `translate(${(x(name) as number) + x.bandwidth() / 2},1348) rotate(-90)`).attr("dy", "0.36em")
      .attr("font-size", 11.6).attr("font-family", FONT).text(minus(name));
  });
  mechanisms.forEach((m, i) => {
    const cy = y(m) as number;
    inhibitors.forEach((name) => {
      g.append("rect").attr("x", x(name)).attr("y", cy - 8.4).attr("width", x.bandwidth()).attr("height", 16.8)
        .attr("fill", "#fff").attr("stroke", "#cfcfcf").attr("stroke-width", 1);
    });
    g.append("text").attr("x", 965).attr("y", cy).attr("dy", "0.36em").attr("font-size", 11.85).attr("font-family", FONT).attr("fill", "#111").text(m);
    g.append("rect").attr("x", 1394).attr("y", cy - 9.1).attr("width", count(mechanismDrugs[i].length)).attr("height", 18.2)
      .attr("fill", "#bebebe").attr("stroke", "#555").attr("stroke-width", 1);
  });
  mechanisms.forEach((m, i) => {
    mechanismDrugs[i].forEach((name) => {
      g.append("circle").attr("cx", (x(name) as number) + x.bandwidth() / 2).attr("cy", y(m)).attr("r", 4.3).attr("fill", "#000");
    });
  });

  g.append("text").attr("transform", "translate(693,1369) rotate(-90)").attr("dy", "0.36em").attr("text-anchor", "middle").attr("font-size", 14).attr("font-family", FONT).text("inhibitors");
  g.append("text").attr("x", 971.7).attr("y", 1370).attr("dy", "0.36em").attr("font-size", 14.3).attr("font-family", FONT).text("mechanism of action");
  g.append("text").attr("x", 1419).attr("y", 1381).attr("dy", "0.36em").attr("text-anchor", "middle").attr("font-size", 13.5).attr("font-family", FONT).text("count");
}

export default function App() {
  const svgRef = useRef<SVGSVGElement>(null);

  useEffect(() => {
    if (!svgRef.current) return;
    const svg = d3.select(svgRef.current);
    svg.selectAll("*").remove();

    drawPanelA(svg);

    const topRow = { top: 46.7, bottom: 270.6 };
    const lowRow = { top: 347, bottom: 579.4 };
    const icPlots: IcPlot[] = [
      { title: "Cisplatin (IC50)", boxes: cisplatinBoxes, outliers: cisplatinOut, stars: "***", ...topRow, axisX: 715, endX: 912, lowX: 768.8, highX: 858.3, boxW: 71.5, tickA: [4.2, 69.3], tickB: [3.2, 270.6], ticks: [3.2, 3.4, 3.6, 3.8, 4.0, 4.2], titleX: 669, titleY: 158.4, bracketY: 56.3 },
      { title: "Docetaxel (IC50)", boxes: docetaxelBoxes, outliers: docetaxelOut, stars: "***", ...topRow, axisX: 984.5, endX: 1173, lowX: 1035.9, highX: 1121.7, boxW: 69, tickA: [-4.6, 61.2], tickB: [-5.2, 227.7], ticks: [-5.2, -5.0, -4.8, -4.6], titleX: 930, titleY: 158.8, bracketY: 57 },
      { title: "Paclitaxel (IC50)", boxes: paclitaxelBoxes, outliers: paclitaxelOut, stars: "*", top: 46.7, bottom: 269.8, axisX: 1244.7, endX: 1433, lowX: 1296, highX: 1382, boxW: 69, tickA: [-1.0, 70.8], tickB: [-3.5, 255.6], ticks: [-3.5, -3.0, -2.5, -2.0, -1.5, -1.0], titleX: 1190.6, titleY: 158, bracketY: 56.3 },
      { title: "Erlotinib (IC50)", boxes: erlotinibBoxes, outliers: erlotinibOut, stars: "***", ...lowRow, axisX: 717.9, endX: 922.5, lowX: 773.5, highX: 866.8, boxW: 75, tickA: [5.6, 352.5], tickB: [4.4, 579.8], ticks: [4.4, 4.6, 4.8, 5.0, 5.2, 5.4, 5.6], titleX: 670, titleY: 463, bracketY: 356.7 },
      { title: "Gefitinib (IC50)", boxes: gefitinibBoxes, outliers: gefitinibOut, stars: "***", ...lowRow, axisX: 990.3, endX: 1193.8, lowX: 1045.9, highX: 1138.7, boxW: 75, tickA: [3.5, 367], tickB: [1.0, 559.5], ticks: [1.0, 1.5, 2.0, 2.5, 3.0, 3.5], titleX: 942, titleY: 463, bracketY: 356.7 },
      { title: "Lapatinib (IC50)", boxes: lapatinibBoxes, outliers: lapatinibOut, stars: "***", ...lowRow, axisX: 1261, endX: 1465, lowX: 1317.3, highX: 1410.5, boxW: 75, tickA: [5.5, 386.5], tickB: [4.0, 571.7], ticks: [4.0, 4.5, 5.0, 5.5], titleX: 1213, titleY: 463, bracketY: 356.7 },
    ];
    icPlots.forEach((p) => drawIcPlot(svg, p));

    const aucPlots: AucPlot[] = [
      { title: "AUC of 681640", boxes: aucBoxes681640, points: aucPoints681640, label: "Kruskal\u2212Wallis, p = 0.0064", frame: [770.4, 637.2, 956.4, 911.6], centers: [804.8, 921.9], boxW: 44.5, tickA: [0.95, 685.8], tickB: [0.75, 893.4], ticks: [0.75, 0.8, 0.85, 0.9, 0.95], fmt: ".2f", titleX: 731, titleY: 775.2, labelX: 775, labelY: 889.4 },
      { title: "AUC of KIN001-270", boxes: aucBoxesKin, points: aucPointsKin, label: "Kruskal\u2212Wallis, p = 0.043", frame: [1111.6, 637.2, 1290.2, 912.4], centers: [1145, 1256.9], boxW: 43.5, tickA: [0.975, 693.7], tickB: [0.925, 852.7], ticks: [0.925, 0.95, 0.975], fmt: ".3f", titleX: 1066, titleY: 774.8, labelX: 1116.4, labelY: 895.8 },
      { title: "AUC of SB-590885", boxes: aucBoxesSb, points: aucPointsSb, label: "Kruskal\u2212Wallis, p = 0.032", frame: [773.5, 928.6, 959, 1211.7], centers: [808, 924.6], boxW: 44.5, tickA: [0.975, 985.1], tickB: [0.9, 1200.2], ticks: [0.9, 0.925, 0.95, 0.975], fmt: ".3f", titleX: 726.4, titleY: 1070.6, labelX: 778.3, labelY: 1188.4 },
      { title: "AUC of UNC0642", boxes: aucBoxesUnc, points: aucPointsUnc, label: "Kruskal\u2212Wallis, p = 0.038", frame: [1102.6, 928.6, 1294.5, 1211.7], centers: [1138.1, 1257.9], boxW: 45.6, tickA: [0.95, 1022.3], tickB: [0.9, 1125.1], ticks: [0.9, 0.95], fmt: ".2f", titleX: 1062.4, titleY: 1070.6, labelX: 1109.5, labelY: 1186 },
    ];
    aucPlots.forEach((p) => drawAucPlot(svg, p));
    drawClusterLegend(svg);
    drawPanelD(svg);

    // panel letters
    const letters: [string, number, number][] = [["A", 0, 24], ["B", 637, 24], ["C", 637, 627], ["D", 637, 1257]];
    svg.selectAll("text.letter").data(letters).join("text").attr("class", "letter")
      .attr("x", (d) => d[1]).attr("y", (d) => d[2]).attr("font-size", 28).attr("font-weight", "bold")
      .attr("font-family", FONT).text((d) => d[0]);
  }, []);

  return <svg ref={svgRef} width={1471} height={1742} style={{ position: "absolute", left: 0, top: 0, background: "#fff" }} />;
}
